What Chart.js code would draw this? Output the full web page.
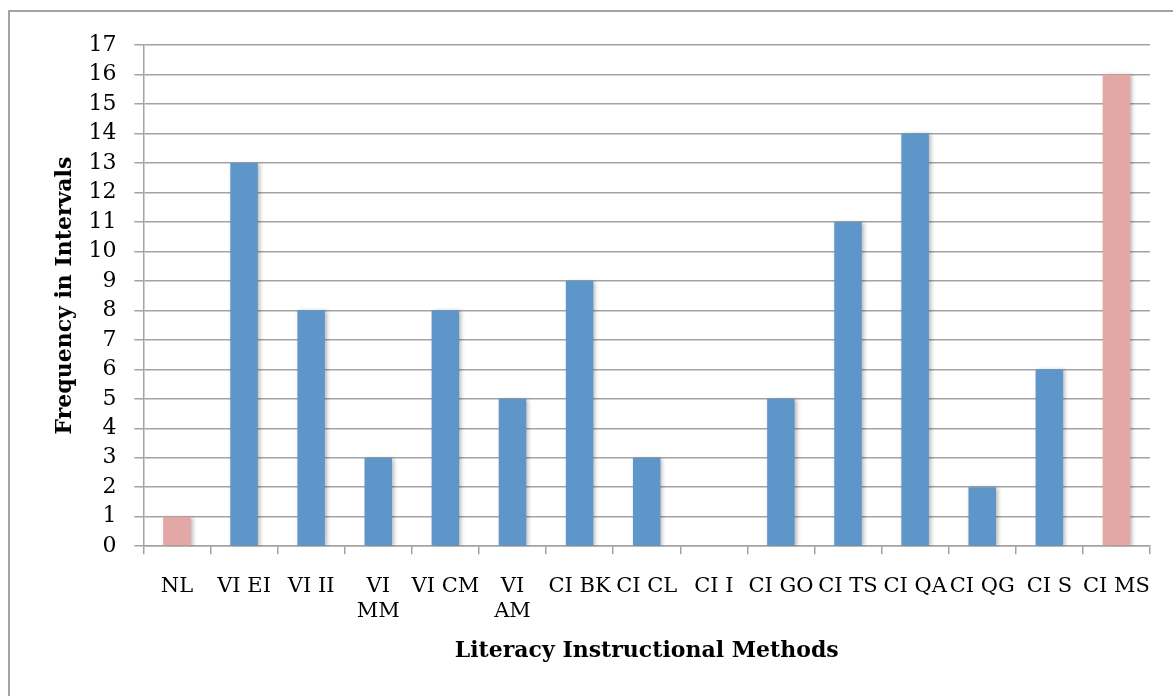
<!doctype html>
<html>
<head>
<title>Literacy Instructional Methods</title>
<style>
body { margin: 0; background: #fff; }
.frame {
  position: absolute;
  left: 8px;
  top: 10px;
  width: 1165px;
  height: 686px;
  border-top: 2px solid #a3a3a3;
  border-left: 2px solid #a3a3a3;
}
.wrap { position: absolute; left: 0; top: 0; width: 1173px; height: 696px; }
</style>
</head>
<body>
<div class="frame"></div>
<div class="wrap">
<canvas id="myChart" width="1173" height="696"></canvas>
</div>

<script src="https://cdn.jsdelivr.net/npm/chart.js@4.4.1/dist/chart.umd.min.js"></script>
<script>

var categories = ['NL', 'VI EI', 'VI II', 'VI MM', 'VI CM', 'VI AM', 'CI BK', 'CI CL', 'CI I', 'CI GO', 'CI TS', 'CI QA', 'CI QG', 'CI S', 'CI MS'];
var tickLabels = ['NL', 'VI EI', 'VI II', ['VI', 'MM'], 'VI CM', ['VI', 'AM'], 'CI BK', 'CI CL', 'CI I', 'CI GO', 'CI TS', 'CI QA', 'CI QG', 'CI S', 'CI MS'];
var frequency = [1, 13, 8, 3, 8, 5, 9, 3, 0, 5, 11, 14, 2, 6, 16];
var pinkCategories = ['NL', 'CI MS'];

var blue = '#5f96ca';
var pink = '#e3a7a5';
var gridGray = '#a3a3a3';

var barColors = categories.map(function(c) {
  return pinkCategories.indexOf(c) >= 0 ? pink : blue;
});

// soft shadow behind the bars, like the office chart
var barShadow = {
  id: 'barShadow',
  beforeDatasetsDraw: function(chart) {
    var ctx = chart.ctx;
    ctx.save();
    ctx.shadowColor = 'rgba(0,0,0,0.28)';
    ctx.shadowBlur = 4;
    ctx.shadowOffsetX = 2;
    ctx.shadowOffsetY = 1;
  },
  afterDatasetsDraw: function(chart) {
    chart.ctx.restore();
  }
};

var ctx = document.getElementById('myChart').getContext('2d');
var myChart = new Chart(ctx, {
  type: 'bar',
  data: {
    labels: tickLabels,
    datasets: [{
      label: 'Frequency',
      data: frequency,
      backgroundColor: barColors,
      barPercentage: 0.41,
      categoryPercentage: 1
    }]
  },
  plugins: [barShadow],
  options: {
    responsive: false,
    animation: false,
    layout: { padding: { left: 52, right: 23, top: 45, bottom: 32 } },
    plugins: {
      legend: { display: false },
      tooltip: { enabled: false }
    },
    scales: {
      x: {
        offset: true,
        grid: {
          offset: true,
          drawOnChartArea: false,
          drawTicks: true,
          tickLength: 8,
          color: gridGray,
          lineWidth: 1.5
        },
        border: { color: gridGray, width: 1.5 },
        ticks: {
          color: '#000',
          font: { family: 'DejaVu Serif', size: 21, lineHeight: 1.2 },
          maxRotation: 0,
          minRotation: 0,
          autoSkip: false,
          padding: 20
        },
        title: {
          display: true,
          text: 'Literacy Instructional Methods',
          color: '#000',
          font: { family: 'DejaVu Serif', size: 22, weight: 'bold' },
          padding: { top: -7, bottom: 0 }
        }
      },
      y: {
        min: 0,
        max: 17,
        ticks: {
          stepSize: 1,
          autoSkip: false,
          color: '#000',
          font: { family: 'DejaVu Serif', size: 22 },
          padding: 18
        },
        grid: {
          color: gridGray,
          lineWidth: 1.5,
          tickLength: 9
        },
        border: { color: gridGray, width: 1.5 },
        title: {
          display: true,
          text: 'Frequency in Intervals',
          color: '#000',
          font: { family: 'DejaVu Serif', size: 22, weight: 'bold' },
          padding: { top: 0, bottom: -8 }
        }
      }
    }
  }
});

</script>
</body>
</html>
